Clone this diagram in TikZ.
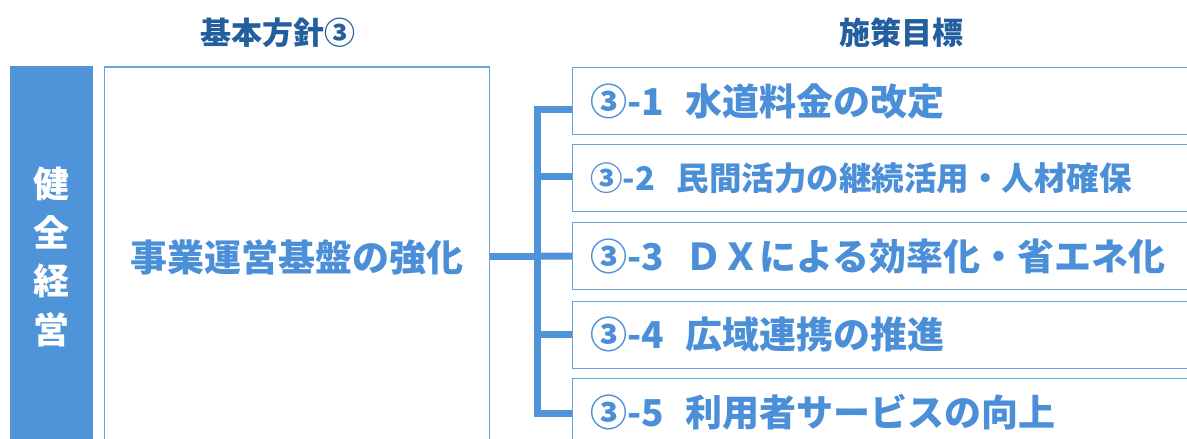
\documentclass[tikz,border=0pt]{standalone}
\usepackage{fontspec}
\setmainfont{Noto Sans CJK JP}
\definecolor{barblue}{HTML}{4F94D9}
\definecolor{txtblue}{HTML}{4A8FD8}
\definecolor{headblue}{HTML}{235E9E}
\definecolor{edgeblue}{HTML}{6AA3DC}
\tikzset{
  head/.style={text=headblue, font=\fontsize{31}{36}\selectfont\bfseries, inner sep=0pt},
  itembox/.style={draw=edgeblue, line width=1.3pt, fill=white, anchor=north west,
    minimum width=640pt, minimum height=67pt, inner xsep=0pt, inner ysep=0pt},
  itemtext/.style={text=txtblue, anchor=west, inner sep=0pt, font=\fontsize{37}{40}\selectfont\bfseries},
  conn/.style={draw=barblue, line width=7pt, line join=miter},
}
\begin{document}
\begin{tikzpicture}[x=1pt,y=-1pt]
\useasboundingbox (0,0) rectangle (1187,439);
% headers
\node[head] (h1) at (278,33) {基本方針③};
\node[head] (h2) at (901,33) {施策目標};
% left bar
\fill[barblue] (9.5,66) rectangle (93,445);
\node[text=white, font=\fontsize{36}{49}\selectfont\bfseries, align=center, inner sep=0pt] (bar) at (51.5,257)
  {健\\[-0.5pt]全\\[-0.5pt]経\\[-0.5pt]営};
% main box
\draw[edgeblue, line width=1.3pt] (104.5,445) -- (104.5,67) -- (489.5,67) -- (489.5,445);
\node[inner sep=0pt, minimum width=385pt, minimum height=60pt] (main) at (297,256) {};
\node[text=txtblue, font=\fontsize{37}{40}\selectfont\bfseries, inner sep=0pt] (maintxt) at (297,257) {事業運営基盤の強化};
% item boxes
\node[itembox] (g1) at (572,67) {};
\node[itembox] (g2) at (572,144) {};
\node[itembox] (g3) at (572,222) {};
\node[itembox] (g4) at (572,300.5) {};
\node[itembox, minimum height=80pt] (g5) at (572,378) {};
\node[itemtext] (t1) at (590,101) {③-1\hspace{22pt}水道料金の改定};
\node[itemtext, font=\fontsize{32.5}{36}\selectfont\bfseries] (t2) at (590,178) {③-2\hspace{22pt}民間活力の継続活用・人材確保};
\node[itemtext] (t3) at (590,256) {③-3\hspace{22pt}ＤＸによる効率化・省エネ化};
\node[itemtext] (t4) at (590,334) {③-4\hspace{22pt}広域連携の推進};
\node[itemtext] (t5) at (590,412) {③-5\hspace{22pt}利用者サービスの向上};
% connectors
\coordinate (j) at (537,256);
\draw[conn] (main.east) -- (j);
\draw[conn] ([yshift=-8pt]g1.west) -| (j);
\draw[conn] ([yshift=-35.5pt]g5.north west) -| (j);
\draw[conn] ([yshift=1.5pt]g2.west) -- ([yshift=1.5pt]g2.west -| j);
\draw[conn] (g3.west) -- (j);
\draw[conn] (g4.west) -- (g4.west -| j);
\end{tikzpicture}
\end{document}
